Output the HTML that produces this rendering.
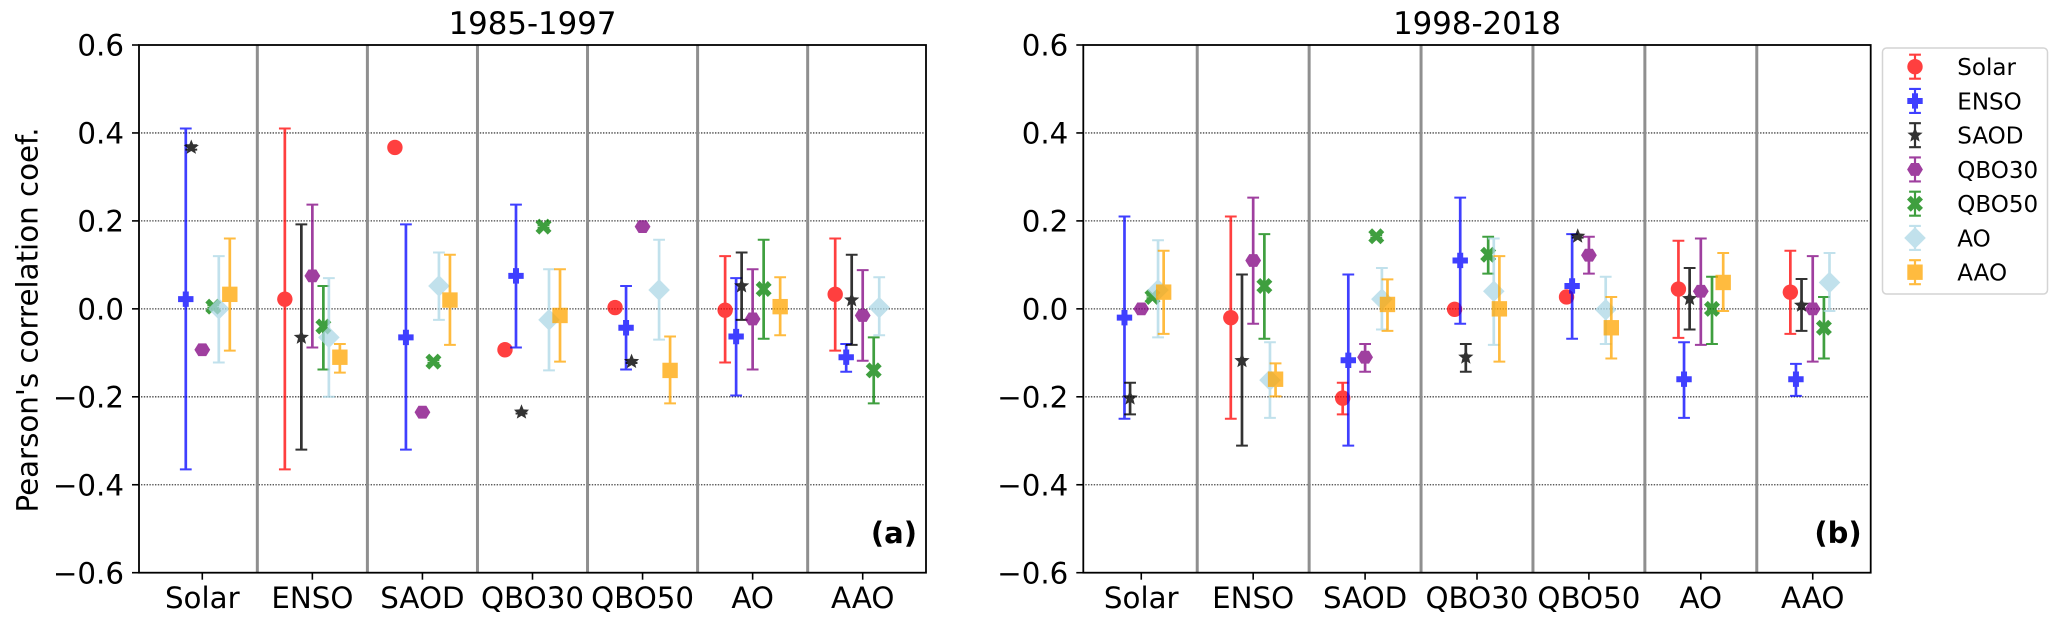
<!DOCTYPE html>
<html lang="en">
<head>
<meta charset="utf-8">
<title>Pearson's correlation coefficients 1985-1997 and 1998-2018</title>
<style>
html,body{margin:0;padding:0;background:#fff;width:2067px;height:624px;overflow:hidden}
svg{display:block}
text{font-family:"DejaVu Sans","Liberation Sans",sans-serif;fill:#000}
</style>
</head>
<body>
<svg id="chart" width="2067" height="624" viewBox="0 0 2067 624" xmlns="http://www.w3.org/2000/svg">
  <rect x="0" y="0" width="2067" height="624" fill="#fff"/>
  <g id="panelA"></g>
  <g id="panelB"></g>
  <text transform="translate(29,320) rotate(-90)" text-anchor="middle" font-size="29.3" dominant-baseline="middle">Pearson's correlation coef.</text>
  <g id="legend"></g>
</svg>
<script>
const categories = ["Solar", "ENSO", "SAOD", "QBO30", "QBO50", "AO", "AAO"];
const yTicks = [0.6, 0.4, 0.2, 0.0, -0.2, -0.4, -0.6];
const yTickLabels = ["0.6", "0.4", "0.2", "0.0", "\u22120.2", "\u22120.4", "\u22120.6"];

const aSolarVal = [null, 0.022, 0.367, -0.093, 0.003, -0.003, 0.033];
const aSolarLow = [null, -0.365, 0.362, -0.096, 0.000, -0.122, -0.095];
const aSolarHigh = [null, 0.410, 0.372, -0.090, 0.006, 0.120, 0.160];
const aEnsoVal = [0.022, null, -0.065, 0.075, -0.043, -0.063, -0.110];
const aEnsoLow = [-0.365, null, -0.320, -0.088, -0.138, -0.197, -0.143];
const aEnsoHigh = [0.410, null, 0.192, 0.237, 0.052, 0.070, -0.080];
const aSaodVal = [0.367, -0.065, null, -0.235, -0.120, 0.052, 0.020];
const aSaodLow = [0.362, -0.320, null, -0.238, -0.123, -0.025, -0.082];
const aSaodHigh = [0.372, 0.192, null, -0.232, -0.117, 0.128, 0.123];
const aQbo30Val = [-0.093, 0.075, -0.235, null, 0.187, -0.023, -0.015];
const aQbo30Low = [-0.096, -0.088, -0.238, null, 0.184, -0.138, -0.118];
const aQbo30High = [-0.090, 0.237, -0.232, null, 0.190, 0.090, 0.088];
const aQbo50Val = [0.005, -0.040, -0.120, 0.187, null, 0.045, -0.140];
const aQbo50Low = [0.002, -0.138, -0.123, 0.184, null, -0.068, -0.215];
const aQbo50High = [0.008, 0.052, -0.117, 0.190, null, 0.157, -0.065];
const aAoVal = [0.000, -0.065, 0.052, -0.025, 0.043, null, 0.003];
const aAoLow = [-0.122, -0.200, -0.025, -0.140, -0.070, null, -0.060];
const aAoHigh = [0.120, 0.070, 0.128, 0.090, 0.157, null, 0.072];
const aAaoVal = [0.033, -0.110, 0.020, -0.015, -0.140, 0.005, null];
const aAaoLow = [-0.095, -0.145, -0.082, -0.120, -0.215, -0.060, null];
const aAaoHigh = [0.160, -0.080, 0.123, 0.090, -0.063, 0.072, null];

const bSolarVal = [null, -0.020, -0.203, -0.001, 0.027, 0.045, 0.038];
const bSolarLow = [null, -0.250, -0.240, -0.004, 0.024, -0.066, -0.057];
const bSolarHigh = [null, 0.210, -0.168, 0.002, 0.030, 0.155, 0.132];
const bEnsoVal = [-0.020, null, -0.117, 0.110, 0.052, -0.160, -0.160];
const bEnsoLow = [-0.250, null, -0.311, -0.034, -0.068, -0.248, -0.198];
const bEnsoHigh = [0.210, null, 0.078, 0.253, 0.170, -0.076, -0.125];
const bSaodVal = [-0.203, -0.118, null, -0.110, 0.165, 0.023, 0.008];
const bSaodLow = [-0.240, -0.311, null, -0.143, 0.162, -0.047, -0.050];
const bSaodHigh = [-0.168, 0.078, null, -0.080, 0.168, 0.093, 0.068];
const bQbo30Val = [0.000, 0.110, -0.110, null, 0.122, 0.040, 0.000];
const bQbo30Low = [-0.003, -0.034, -0.143, null, 0.080, -0.082, -0.120];
const bQbo30High = [0.003, 0.253, -0.080, null, 0.164, 0.160, 0.120];
const bQbo50Val = [0.027, 0.052, 0.165, 0.123, null, 0.000, -0.043];
const bQbo50Low = [0.024, -0.068, 0.162, 0.080, null, -0.080, -0.113];
const bQbo50High = [0.030, 0.170, 0.168, 0.164, null, 0.073, 0.027];
const bAoVal = [0.043, -0.162, 0.022, 0.040, -0.002, null, 0.060];
const bAoLow = [-0.065, -0.248, -0.047, -0.082, -0.080, null, -0.005];
const bAoHigh = [0.156, -0.076, 0.093, 0.160, 0.073, null, 0.127];
const bAaoVal = [0.038, -0.160, 0.010, 0.000, -0.043, 0.060, null];
const bAaoLow = [-0.057, -0.199, -0.050, -0.120, -0.113, -0.005, null];
const bAaoHigh = [0.132, -0.124, 0.067, 0.120, 0.027, 0.127, null];

const NS = "http://www.w3.org/2000/svg";
function mk(parent, tag, attrs, txt) {
  const el = document.createElementNS(NS, tag);
  for (const k in attrs) el.setAttribute(k, attrs[k]);
  if (txt !== undefined) el.textContent = txt;
  parent.appendChild(el);
  return el;
}
const styles = [
  {key: "solar", color: "#ff0000", shape: "circle", alpha: 0.75},
  {key: "enso", color: "#0000ff", shape: "plus", alpha: 0.75},
  {key: "saod", color: "#000000", shape: "star", alpha: 0.8},
  {key: "qbo30", color: "#800080", shape: "hex", alpha: 0.75},
  {key: "qbo50", color: "#008000", shape: "cross", alpha: 0.75},
  {key: "ao", color: "#add8e6", shape: "diamond", alpha: 0.75},
  {key: "aao", color: "#ffa500", shape: "square", alpha: 0.75}
];
function poly(cx, cy, pts) {
  return pts.map(p => (cx + p[0]).toFixed(2) + "," + (cy + p[1]).toFixed(2)).join(" ");
}
function drawMarker(g, shape, cx, cy, color) {
  const base = {fill: color};
  if (shape === "circle") return mk(g, "circle", {cx: cx, cy: cy, r: 7.7, fill: color});
  let pts;
  if (shape === "square") pts = [[-7.7,-7.7],[7.7,-7.7],[7.7,7.7],[-7.7,7.7]];
  if (shape === "diamond") pts = [[0,-10.8],[10.8,0],[0,10.8],[-10.8,0]];
  if (shape === "plus") pts = [[-3,-7.7],[3,-7.7],[3,-3],[7.7,-3],[7.7,3],[3,3],[3,7.7],[-3,7.7],[-3,3],[-7.7,3],[-7.7,-3],[-3,-3]];
  if (shape === "cross") pts = [[-4.2,-8],[0,-3.8],[4.2,-8],[8,-4.2],[3.8,0],[8,4.2],[4.2,8],[0,3.8],[-4.2,8],[-8,4.2],[-3.8,0],[-8,-4.2]];
  if (shape === "hex") {
    pts = [];
    for (let k = 0; k < 6; k++) pts.push([7.9 * Math.cos(k * Math.PI / 3), 7.4 * Math.sin(k * Math.PI / 3)]);
  }
  if (shape === "star") {
    pts = [];
    for (let k = 0; k < 10; k++) {
      const r = k % 2 ? 3.5 : 8, a = -Math.PI / 2 + k * Math.PI / 5;
      pts.push([r * Math.cos(a), r * Math.sin(a)]);
    }
  }
  base.points = poly(cx, cy, pts);
  return mk(g, "polygon", base);
}

const yTop = 45, yBottom = 572.7;
function yScale(v) { return yTop + (0.6 - v) / 1.2 * (yBottom - yTop); }

function drawPanel(cfg) {
  const root = document.getElementById(cfg.id);
  const xScale = i => cfg.left + (i - cfg.xMin) / (cfg.xMax - cfg.xMin) * (cfg.right - cfg.left);

  yTicks.forEach(t => {
    if (Math.abs(Math.abs(t) - 0.6) < 1e-9) return;
    const line = mk(root, "line", {x1: cfg.left + 2, x2: cfg.right - 2, y1: yScale(t), y2: yScale(t), stroke: "#444", "stroke-width": 1.3, "stroke-dasharray": "1.4 1.4"});
    
    
  });
  for (let i = 0; i < categories.length - 1; i++) {
    const sep = mk(root, "line", {x1: xScale(i + 0.5), x2: xScale(i + 0.5), y1: yTop, y2: yBottom, stroke: "#8f8f8f", "stroke-width": 3});
    
    
  }

  cfg.series.forEach((s, si) => {
    const st = styles[si];
    const g = mk(root, "g", {opacity: st.alpha});
    
    
    s.val.forEach((v, i) => {
      if (v === null) return;
      const x = xScale(i + cfg.offsets[si]);
      const yv = yScale(v), yl = yScale(s.low[i]), yh = yScale(s.high[i]);
      const err = mk(g, "path", {d: "M" + (x - 5.9) + " " + yl + "H" + (x + 5.9) + "M" + (x - 5.9) + " " + yh + "H" + (x + 5.9), fill: "none", stroke: st.color, "stroke-width": 2});
      
      
      const stem = mk(g, "line", {x1: x, x2: x, y1: yl, y2: yh, stroke: st.color, "stroke-width": 2.7});
      
      
      const m = drawMarker(g, st.shape, x, yv, st.color);
      
      
    });
  });

  const frame = mk(root, "rect", {x: cfg.left, y: yTop, width: cfg.right - cfg.left, height: yBottom - yTop, fill: "none", stroke: "#000", "stroke-width": 1.8});
  
  

  yTicks.forEach((t, i) => {
    const tk = mk(root, "line", {x1: cfg.left - 7, x2: cfg.left, y1: yScale(t), y2: yScale(t), stroke: "#000", "stroke-width": 1.6});
    
    
    const lb = mk(root, "text", {x: cfg.left - 15, y: yScale(t) + 10.7, "text-anchor": "end", "font-size": 29.3}, yTickLabels[i]);
    
    
  });
  categories.forEach((c, i) => {
    const tk = mk(root, "line", {x1: xScale(i), x2: xScale(i), y1: yBottom, y2: yBottom + 7, stroke: "#000", "stroke-width": 1.6});
    
    
    const lb = mk(root, "text", {x: xScale(i), y: 608, "text-anchor": "middle", "font-size": 29.3}, c);
    
    
  });

  const title = mk(root, "text", {x: (cfg.left + cfg.right) / 2, y: 34, "text-anchor": "middle", "font-size": 30.8}, cfg.title);
  
  
  const tag = mk(root, "text", {x: cfg.right - 9, y: 543, "text-anchor": "end", "font-size": 29, "font-weight": "bold"}, cfg.tag);
  
  
}

drawPanel({
  id: "panelA", title: "1985-1997", tag: "(a)", left: 139, right: 926, xMin: -0.575, xMax: 6.575,
  offsets: [-0.25, -0.15, -0.1, 0, 0.1, 0.15, 0.25],
  series: [
    {val: aSolarVal, low: aSolarLow, high: aSolarHigh},
    {val: aEnsoVal, low: aEnsoLow, high: aEnsoHigh},
    {val: aSaodVal, low: aSaodLow, high: aSaodHigh},
    {val: aQbo30Val, low: aQbo30Low, high: aQbo30High},
    {val: aQbo50Val, low: aQbo50Low, high: aQbo50High},
    {val: aAoVal, low: aAoLow, high: aAoHigh},
    {val: aAaoVal, low: aAaoLow, high: aAaoHigh}
  ]
});
drawPanel({
  id: "panelB", title: "1998-2018", tag: "(b)", left: 1083.3, right: 1870.7, xMin: -0.518, xMax: 6.518,
  offsets: [-0.2, -0.15, -0.1, 0, 0.1, 0.15, 0.2],
  series: [
    {val: bSolarVal, low: bSolarLow, high: bSolarHigh},
    {val: bEnsoVal, low: bEnsoLow, high: bEnsoHigh},
    {val: bSaodVal, low: bSaodLow, high: bSaodHigh},
    {val: bQbo30Val, low: bQbo30Low, high: bQbo30High},
    {val: bQbo50Val, low: bQbo50Low, high: bQbo50High},
    {val: bAoVal, low: bAoLow, high: bAoHigh},
    {val: bAaoVal, low: bAaoLow, high: bAaoHigh}
  ]
});

(function drawLegend() {
  const root = document.getElementById("legend");
  const box = mk(root, "rect", {x: 1882.5, y: 48, width: 165, height: 246, rx: 4, fill: "#fff", stroke: "#d4d4d4", "stroke-width": 1.5});
  
  
  categories.forEach((c, i) => {
    const y = 66.7 + i * 34.25, x = 1915, st = styles[i];
    const g = mk(root, "g", {});
    
    
    const h = mk(g, "g", {opacity: st.alpha});
    
    
    mk(h, "path", {d: "M" + x + " " + (y - 12) + "V" + (y + 12) + "M" + (x - 5.9) + " " + (y - 12) + "H" + (x + 5.9) + "M" + (x - 5.9) + " " + (y + 12) + "H" + (x + 5.9), fill: "none", stroke: st.color, "stroke-width": 2.2});
    drawMarker(h, st.shape, x, y, st.color);
    const t = mk(g, "text", {x: 1957.3, y: y + 8.5, "font-size": 23}, c);
    
    
  });
})();
</script>
</body>
</html>
